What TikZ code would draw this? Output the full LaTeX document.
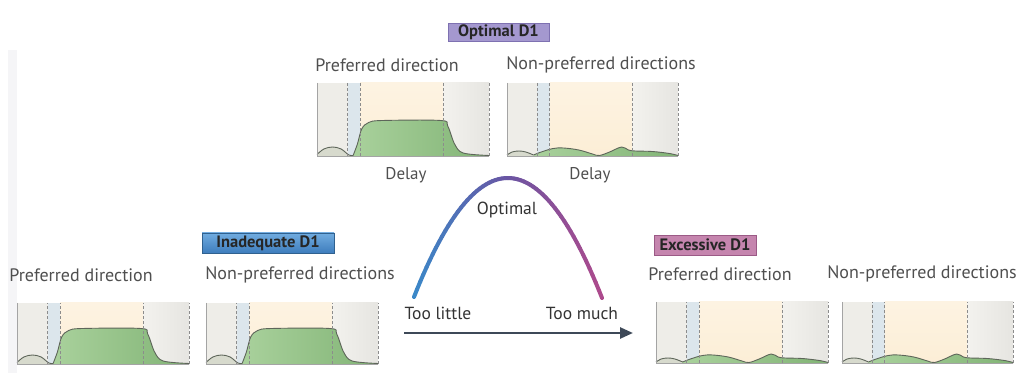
\documentclass[tikz,border=0pt]{standalone}
\usepackage{fontspec}
\setmainfont{PT Sans}
\usetikzlibrary{arrows.meta}

% zone colours of the response panels
\definecolor{zonePre}{HTML}{EEEDE8}
\definecolor{zoneCue}{HTML}{DCE6EC}
\definecolor{zoneDelayTop}{HTML}{FDF3E2}
\definecolor{zoneDelayBot}{HTML}{FCEED6}
\definecolor{zonePostA}{HTML}{F3F2EE}
\definecolor{zonePostB}{HTML}{E6E5E1}
\definecolor{bumpFill}{HTML}{D7DACD}
\definecolor{greenA}{HTML}{A9D19C}
\definecolor{greenB}{HTML}{82B476}
\definecolor{profLine}{HTML}{5E665A}
\definecolor{dashGray}{HTML}{8C8C8C}
\definecolor{edgeGray}{HTML}{A4A4A4}
% label colours
\definecolor{labelGray}{HTML}{4F4F4F}
\definecolor{darkText}{HTML}{333333}
\definecolor{optFill}{HTML}{A498CF}
\definecolor{optLine}{HTML}{7E71B1}
\definecolor{inadTop}{HTML}{71ACE0}
\definecolor{inadBot}{HTML}{3E7DBD}
\definecolor{inadLine}{HTML}{30618F}
\definecolor{excFill}{HTML}{C585AE}
\definecolor{excLine}{HTML}{9B5A86}
% dose-response curve and axis
\definecolor{curveA}{HTML}{3B88C8}
\definecolor{curveB}{HTML}{6A55A3}
\definecolor{curveC}{HTML}{AE4A8C}
\definecolor{axisCol}{HTML}{3E4958}
\definecolor{sideBand}{HTML}{F5F5F7}

\tikzset{
  paneltitle/.style={font=\fontsize{18}{20}\selectfont, text=labelGray, inner sep=0pt},
  delaylabel/.style={font=\fontsize{17}{19}\selectfont, text=labelGray, inner sep=0pt},
  curvelabel/.style={font=\fontsize{17.5}{19}\selectfont, text=darkText, inner sep=0pt},
  tagbox/.style={font=\bfseries\fontsize{16.5}{18}\selectfont, inner sep=0pt, line width=0.6pt},
  zonedash/.style={dashGray, line width=0.8pt, dash pattern=on 3pt off 2pt},
  profline/.style={profLine, line width=0.9pt, line join=round},
}

% strong, sustained response during the delay
\newcommand\highcurve{%
  \fill[bumpFill] (0,0) -- plot[smooth, tension=0.6] coordinates
    {(0,1.5) (0.04,7) (0.09,9) (0.14,7) (0.185,1) (0.21,0.5)} -- (0.21,0) -- cycle;
  \shade[left color=greenA, right color=greenB] (0.21,0) -- plot[smooth, tension=0.55] coordinates
    {(0.21,0.5) (0.235,12) (0.26,27) (0.3,33.5) (0.38,35.5) (0.72,35.5) (0.76,30) (0.8,12) (0.85,3) (1,0.5)}
    -- (1,0) -- cycle;
  \draw[profline] plot[smooth, tension=0.6] coordinates
    {(0,1.5) (0.04,7) (0.09,9) (0.14,7) (0.185,1) (0.21,0.5)};
  \draw[profline] plot[smooth, tension=0.55] coordinates
    {(0.21,0.5) (0.235,12) (0.26,27) (0.3,33.5) (0.38,35.5) (0.72,35.5) (0.76,30) (0.8,12) (0.85,3) (1,0.5)};
}
% weak, irregular response during the delay
\newcommand\lowcurve{%
  \fill[bumpFill] (0,0) -- plot[smooth, tension=0.6] coordinates
    {(0,1) (0.03,4) (0.07,5) (0.11,4) (0.155,1)} -- (0.155,0) -- cycle;
  \shade[left color=greenA, right color=greenB] (0.155,0) -- plot[smooth, tension=0.6] coordinates
    {(0.155,1) (0.2,4) (0.27,7.5) (0.33,8) (0.42,6) (0.5,2) (0.54,0.5) (0.6,4) (0.67,9) (0.71,6) (0.75,5) (0.85,4.5) (0.95,2.5) (1,0.5)}
    -- (1,0) -- cycle;
  \draw[profline] plot[smooth, tension=0.6] coordinates
    {(0,1) (0.03,4) (0.07,5) (0.11,4) (0.155,1)};
  \draw[profline] plot[smooth, tension=0.6] coordinates
    {(0.155,1) (0.2,4) (0.27,7.5) (0.33,8) (0.42,6) (0.5,2) (0.54,0.5) (0.6,4) (0.67,9) (0.71,6) (0.75,5) (0.85,4.5) (0.95,2.5) (1,0.5)};
}
% #1 left, #2 bottom, #3 width, #4 height, #5 response curve
\newcommand\rpanel[5]{%
  \begin{scope}[shift={(#1,#2)}, x={(#3pt,0pt)}, y={(0pt,1pt)}]
    \fill[zonePre] (0,0) rectangle (0.178,#4);
    \fill[zoneCue] (0.178,0) rectangle (0.25,#4);
    \shade[top color=zoneDelayTop, bottom color=zoneDelayBot] (0.25,0) rectangle (0.733,#4);
    \shade[left color=zonePostA, right color=zonePostB] (0.733,0) rectangle (1,#4);
    #5
    \draw[edgeGray, line width=0.7pt] (0,#4) -- (0,0) -- (1,0);
    \foreach \d in {0.178,0.25,0.733,1}
      \draw[zonedash] (\d,0) -- (\d,#4);
  \end{scope}}

\begin{document}
\begin{tikzpicture}[x=1pt, y=-1pt]
\useasboundingbox (0,0) rectangle (1018,374);
\fill[white] (0,0) rectangle (1018,374);
\fill[sideBand] (8,50) rectangle (17,373);

% ---- optimal D1 ----
\node[tagbox, fill=optFill, draw=optLine, minimum width=101pt, minimum height=18pt, text=black!85]
  (opt) at (498.5,32) {Optimal D1};
\node[paneltitle] (optPref) at (387,65) {Preferred direction};
\node[paneltitle] (optNon) at (601,65) {Non-preferred directions};
\rpanel{317}{156}{172}{73}{\highcurve}
\rpanel{507}{156}{171}{73}{\lowcurve}
\node[delaylabel] (optDelayA) at (406,175) {Delay};
\node[delaylabel] (optDelayB) at (590,175) {Delay};

% ---- inadequate D1 ----
\node[tagbox, top color=inadTop, bottom color=inadBot, draw=inadLine, minimum width=132pt, minimum height=20pt, text=black!85]
  (inad) at (268,243) {Inadequate D1};
\node[paneltitle] (inadPref) at (81,275) {Preferred direction};
\node[paneltitle] (inadNon) at (300,275) {Non-preferred directions};
\rpanel{17}{364}{172}{61}{\highcurve}
\rpanel{206}{364}{172}{61}{\highcurve}

% ---- excessive D1 ----
\node[tagbox, fill=excFill, draw=excLine, minimum width=102pt, minimum height=20pt, text=black!85]
  (exc) at (705,245) {Excessive D1};
\node[paneltitle] (excPref) at (720,274) {Preferred direction};
\node[paneltitle] (excNon) at (922,274) {Non-preferred directions};
\rpanel{656}{363}{172}{61}{\lowcurve}
\rpanel{842}{363}{171}{61}{\lowcurve}

% ---- inverted-U dose curve ----
\coordinate (little) at (414,297);
\coordinate (peak) at (507,178);
\coordinate (much) at (602,298);
\foreach \i in {0,...,59}{
  \pgfmathsetmacro\ta{\i/60}
  \pgfmathsetmacro\tb{(\i+1)/60}
  \pgfmathsetmacro\xa{(1-\ta)^2*414 + 2*\ta*(1-\ta)*508 + \ta^2*602}
  \pgfmathsetmacro\ya{(1-\ta)^2*297 + 2*\ta*(1-\ta)*58.5 + \ta^2*298}
  \pgfmathsetmacro\xb{(1-\tb)^2*414 + 2*\tb*(1-\tb)*508 + \tb^2*602}
  \pgfmathsetmacro\yb{(1-\tb)^2*297 + 2*\tb*(1-\tb)*58.5 + \tb^2*298}
  \ifnum\i<30
    \pgfmathtruncatemacro\p{100-100*\i/30}
    \draw[line width=4pt, line cap=round, color=curveA!\p!curveB] (\xa,\ya) -- (\xb,\yb);
  \else
    \pgfmathtruncatemacro\p{100-100*(\i-30)/30}
    \draw[line width=4pt, line cap=round, color=curveB!\p!curveC] (\xa,\ya) -- (\xb,\yb);
  \fi
}
\node[curvelabel] (optimal) at (507,210) {Optimal};
\node[curvelabel] (tooLittle) at (438,313) {Too little};
\node[curvelabel] (tooMuch) at (582,313) {Too much};

% dose axis
\coordinate (axL) at (404,333);
\coordinate (axR) at (633,333);
\draw[axisCol, line width=2.6pt, -{Triangle[length=13pt,width=11pt]}] (axL) -- (axR);
\end{tikzpicture}
\end{document}
